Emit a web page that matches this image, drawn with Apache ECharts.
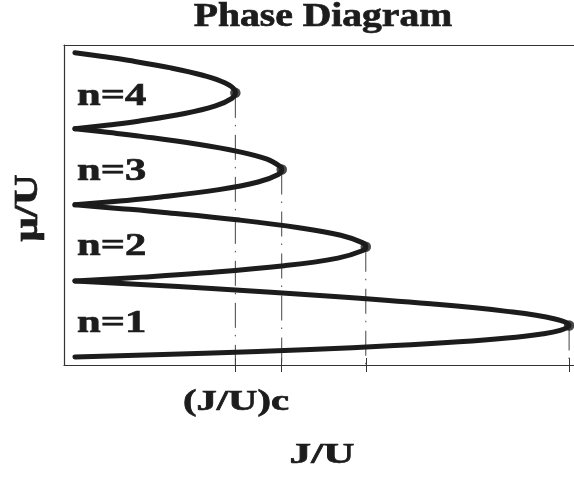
<!DOCTYPE html>
<html><head><meta charset="utf-8">
<script src="https://cdn.jsdelivr.net/npm/echarts@6/dist/echarts.min.js"></script>
<style>html,body{margin:0;padding:0;background:#fff}#c{width:574px;height:486px}</style>
</head><body><div id="c"></div>
<script>
// Lobe boundaries: [J/U, mu/U]
const lobe1 = [[0,0],[0.0452,0.05],[0.0818,0.1],[0.1109,0.15],[0.1333,0.2],[0.15,0.25],[0.1615,0.3],[0.1685,0.35],[0.1716,0.414],[0.1667,0.5],[0.15,0.6],[0.1235,0.7],[0.0889,0.8],[0.0474,0.9],[0.0244,0.95],[0,1]];
const lobe2 = [[0,1],[0.0232,1.05],[0.0429,1.1],[0.0727,1.2],[0.0913,1.3],[0.1,1.4],[0.101,1.449],[0.1,1.5],[0.0923,1.6],[0.0778,1.7],[0.0571,1.8],[0.031,1.9],[0.0161,1.95],[0,2]];
const lobe3 = [[0,2],[0.0156,2.05],[0.029,2.1],[0.05,2.2],[0.0636,2.3],[0.0706,2.4],[0.0718,2.464],[0.0714,2.5],[0.0667,2.6],[0.0568,2.7],[0.0421,2.8],[0.0231,2.9],[0.012,2.95],[0,3]];
const lobe4 = [[0,3],[0.0117,3.05],[0.022,3.1],[0.0381,3.2],[0.0488,3.3],[0.0545,3.4],[0.0557,3.472],[0.0556,3.5],[0.0522,3.6],[0.0447,3.7],[0.0333,3.8],[0.0184,3.9],[0.0096,3.95],[0,4]];
const tips = [[0.1716,0.414],[0.101,1.449],[0.0718,2.464],[0.0557,3.472]];
const tickJ = [0.0557,0.0718,0.101,0.1716];
const lobeNames = ['n=1','n=2','n=3','n=4'];
const X_MIN = -0.0038, X_MAX = 0.1733, Y_MIN = -0.105, Y_MAX = 4.101;

const FONT = '"Liberation Serif","Times New Roman",serif';
const INK = '#1c1c1c';
const chart = echarts.init(document.getElementById('c'), null, {renderer:'canvas'});

const lobes = [lobe1, lobe2, lobe3, lobe4];
const series = [];
tips.forEach(function(t){
  series.push({type:'line', data:[[t[0],t[1]],[t[0],Y_MIN]], showSymbol:false, silent:true, z:1,
    lineStyle:{color:'#444', width:1, type:[25,7,1.5,8.5]}});
});
lobes.forEach(function(l, i){
  series.push({type:'line', name:lobeNames[i], data:l, showSymbol:false, smooth:0.4, z:3,
    lineStyle:{color:INK, width:5, cap:'round', join:'round'}});
});
series.push({type:'scatter', data:tips, symbol:'circle', symbolSize:10.5, itemStyle:{color:INK}, z:4});

function txt(text, x, y, size, sx, align, rot){
  return {type:'text', x:x, y:y, scaleX:sx, rotation:rot||0, z:10,
    style:{text:text, x:0, y:0, fontFamily:FONT, fontWeight:'bold', fontSize:size, fill:INK,
      stroke:INK, lineWidth:0.7, align:align, verticalAlign:'middle'}};
}
const nLabelY = [324, 247, 172, 97];

chart.setOption({
  animation:false,
  backgroundColor:'#fff',
  grid:{left:64, top:45, right:0, bottom:121, containLabel:false},
  xAxis:[
    {type:'value', position:'bottom', min:X_MIN, max:X_MAX,
      axisLine:{show:true, onZero:false, lineStyle:{color:'#333', width:1.2}},
      axisTick:{show:true, inside:false, length:7, customValues:tickJ, lineStyle:{color:'#333', width:1}},
      axisLabel:{show:false}, splitLine:{show:false}},
    {type:'value', position:'bottom', min:X_MIN, max:X_MAX,
      axisLine:{show:false, onZero:false},
      axisTick:{show:true, inside:true, length:7, customValues:tickJ, lineStyle:{color:'#333', width:1}},
      axisLabel:{show:false}, splitLine:{show:false}},
    {type:'value', position:'top', min:X_MIN, max:X_MAX,
      axisLine:{show:true, onZero:false, lineStyle:{color:'#333', width:1.2}},
      axisTick:{show:false}, axisLabel:{show:false}, splitLine:{show:false}}
  ],
  yAxis:{type:'value', min:Y_MIN, max:Y_MAX,
    axisLine:{show:true, onZero:false, lineStyle:{color:'#333', width:1.2}},
    axisTick:{show:false}, axisLabel:{show:false}, splitLine:{show:false}},
  series:series,
  graphic:[
    txt('Phase Diagram', 323, 17, 33, 1.2, 'center'),
    txt(lobeNames[0], 77, nLabelY[0], 32, 1.33, 'left'),
    txt(lobeNames[1], 77, nLabelY[1], 32, 1.33, 'left'),
    txt(lobeNames[2], 77, nLabelY[2], 32, 1.33, 'left'),
    txt(lobeNames[3], 77, nLabelY[3], 32, 1.33, 'left'),
    txt('(J/U)c', 236, 403, 29, 1.4, 'center'),
    txt('J/U', 322, 455, 30, 1.44, 'center'),
    txt('μ/U', 28, 208, 33, 1.3, 'center', Math.PI/2)
  ]
});
</script></body></html>
